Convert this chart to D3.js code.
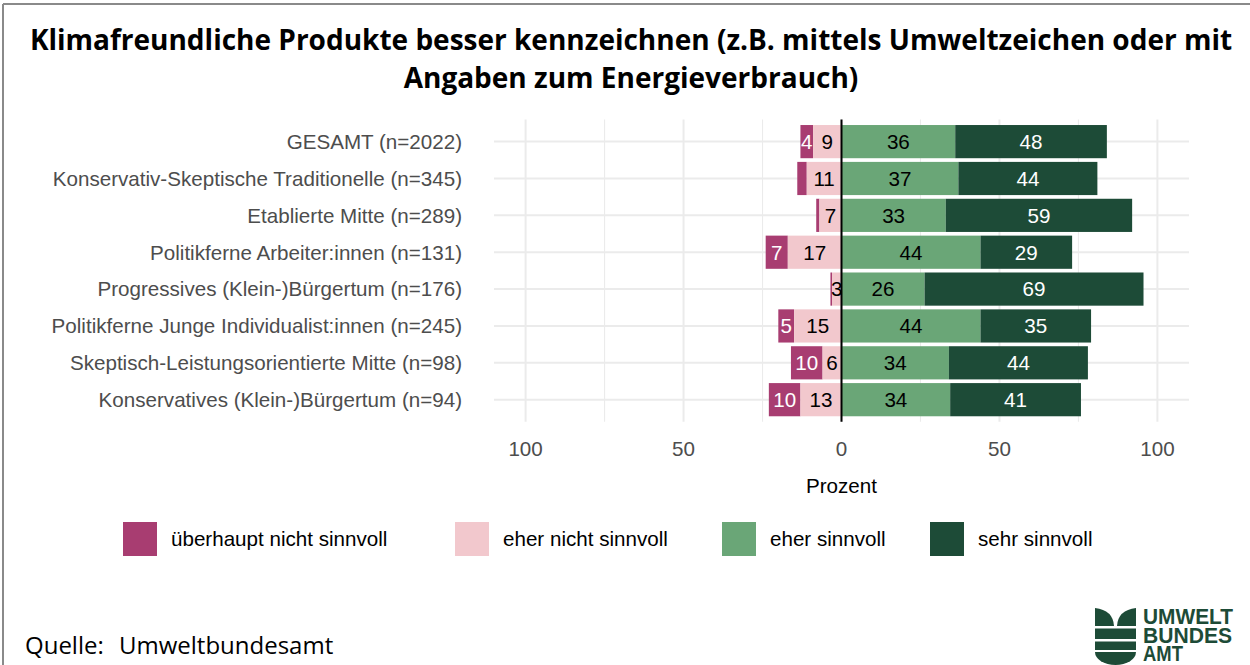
<!DOCTYPE html>
<html>
<head>
<meta charset="utf-8">
<script src="https://cdn.jsdelivr.net/npm/d3@7"></script>
<style>
  html, body { margin: 0; padding: 0; background: #fff; }
  svg { display: block; }
</style>
</head>
<body>
<svg id="chart" width="1250" height="665"></svg>
<script>
// ---- Data ----
const categories = [
  "GESAMT (n=2022)",
  "Konservativ-Skeptische Traditionelle (n=345)",
  "Etablierte Mitte (n=289)",
  "Politikferne Arbeiter:innen (n=131)",
  "Progressives (Klein-)Bürgertum (n=176)",
  "Politikferne Junge Individualist:innen (n=245)",
  "Skeptisch-Leistungsorientierte Mitte (n=98)",
  "Konservatives (Klein-)Bürgertum (n=94)"
];
const ueberhauptNicht = [4, 3, 1, 7, 0.5, 5, 10, 10];
const eherNicht       = [9, 11, 7, 17, 3, 15, 6, 13];
const eherSinnvoll    = [36, 37, 33, 44, 26.3, 44, 34, 34.4];
const sehrSinnvoll    = [48, 44, 59, 29, 69.3, 35, 44, 41.4];
const seriesNames = ["überhaupt nicht sinnvoll", "eher nicht sinnvoll", "eher sinnvoll", "sehr sinnvoll"];
const seriesColors = ["#A83D71", "#F2C8CD", "#6AA677", "#1D4B37"];
const labelColors = ["#ffffff", "#000000", "#000000", "#ffffff"];
const minLabelValue = [4, 3, 3, 3];
const majorTicks = [-100, -50, 0, 50, 100];
const minorTicks = [-75, -25, 25, 75];
const titleLines = [
  "Klimafreundliche Produkte besser kennzeichnen (z.B. mittels Umweltzeichen oder mit",
  "Angaben zum Energieverbrauch)"
];
const xAxisTitle = "Prozent";
const sourceLabel = "Quelle:";
const sourceName = "Umweltbundesamt";
const logoWords = ["UMWELT", "BUNDES", "AMT"];

// ---- Layout ----
const svg = d3.select("#chart");
const FONT = "'Liberation Sans', Arial, sans-serif";
const FS = 20.6;
const panel = { left: 494, right: 1189, top: 119.5, bottom: 421.8 };
const x = d3.scaleLinear().domain([-110, 110]).range([panel.left, panel.right]);
const y = d3.scaleBand().domain(categories).range([panel.top, panel.bottom])
  .paddingInner(0.1).paddingOuter(0.15);

// border (top and left visible)
svg.append("line").attr("x1", 3).attr("x2", 1250).attr("y1", 4).attr("y2", 4)
  .attr("stroke", "#8a8a8a").attr("stroke-width", 2);
svg.append("line").attr("x1", 3).attr("x2", 3).attr("y1", 4).attr("y2", 665)
  .attr("stroke", "#8a8a8a").attr("stroke-width", 2);

// title
svg.append("g").selectAll("text").data(titleLines).join("text")
  .attr("x", 631).attr("y", (d, i) => 50 + i * 38)
  .attr("text-anchor", "middle")
  .attr("font-family", "'Open Sans', sans-serif")
  .attr("font-weight", 700).attr("font-size", 28).attr("fill", "#000")
  .text(d => d);

// grid
const grid = svg.append("g");
grid.selectAll("line.minor").data(minorTicks).join("line").attr("class", "minor")
  .attr("x1", d => x(d)).attr("x2", d => x(d))
  .attr("y1", panel.top).attr("y2", panel.bottom)
  .attr("stroke", "#EBEBEB").attr("stroke-width", 1.1);
grid.selectAll("line.major").data(majorTicks).join("line").attr("class", "major")
  .attr("x1", d => x(d)).attr("x2", d => x(d))
  .attr("y1", panel.top).attr("y2", panel.bottom)
  .attr("stroke", "#EBEBEB").attr("stroke-width", 2);
grid.selectAll("line.h").data(categories).join("line").attr("class", "h")
  .attr("x1", panel.left).attr("x2", panel.right)
  .attr("y1", d => y(d) + y.bandwidth() / 2).attr("y2", d => y(d) + y.bandwidth() / 2)
  .attr("stroke", "#EBEBEB").attr("stroke-width", 2);

// stacked segments
const segs = [];
categories.forEach((c, i) => {
  const v = [ueberhauptNicht[i], eherNicht[i], eherSinnvoll[i], sehrSinnvoll[i]];
  segs.push({ c, s: 0, v: v[0], x0: -(v[0] + v[1]), x1: -v[1] });
  segs.push({ c, s: 1, v: v[1], x0: -v[1], x1: 0 });
  segs.push({ c, s: 2, v: v[2], x0: 0, x1: v[2] });
  segs.push({ c, s: 3, v: v[3], x0: v[2], x1: v[2] + v[3] });
});
svg.append("g").selectAll("rect").data(segs).join("rect")
  .attr("x", d => x(d.x0)).attr("width", d => x(d.x1) - x(d.x0))
  .attr("y", d => y(d.c)).attr("height", y.bandwidth())
  .attr("fill", d => seriesColors[d.s]);

// zero line
svg.append("line").attr("x1", x(0)).attr("x2", x(0))
  .attr("y1", panel.top).attr("y2", panel.bottom)
  .attr("stroke", "#000").attr("stroke-width", 2);

// bar labels
svg.append("g").selectAll("text").data(segs.filter(d => d.v >= minLabelValue[d.s])).join("text")
  .attr("x", d => x((d.x0 + d.x1) / 2))
  .attr("y", d => y(d.c) + y.bandwidth() / 2)
  .attr("dy", "0.36em")
  .attr("text-anchor", "middle")
  .attr("font-family", FONT)
  .attr("font-size", FS)
  .attr("fill", d => labelColors[d.s])
  .text(d => d3.format("d")(Math.round(d.v)));

// y axis labels
svg.append("g").selectAll("text").data(categories).join("text")
  .attr("x", 462).attr("y", d => y(d) + y.bandwidth() / 2).attr("dy", "0.36em")
  .attr("text-anchor", "end")
  .attr("font-family", FONT)
  .attr("font-size", FS).attr("fill", "#4D4D4D")
  .text(d => d);

// x axis labels
svg.append("g").selectAll("text").data(majorTicks).join("text")
  .attr("x", d => x(d)).attr("y", 456)
  .attr("text-anchor", "middle")
  .attr("font-family", FONT)
  .attr("font-size", FS).attr("fill", "#4D4D4D")
  .text(d => Math.abs(d));
svg.append("text").attr("x", x(0)).attr("y", 493).attr("text-anchor", "middle")
  .attr("font-family", FONT)
  .attr("font-size", FS).attr("fill", "#000").text(xAxisTitle);

// legend
const legendX = [123, 455, 722, 930];
const lg = svg.append("g").selectAll("g").data(seriesNames).join("g")
  .attr("transform", (d, i) => `translate(${legendX[i]},522)`);
lg.append("rect").attr("width", 34).attr("height", 34)
  .attr("fill", (d, i) => seriesColors[i]);
lg.append("text").attr("x", 48).attr("y", 17).attr("dy", "0.36em")
  .attr("font-family", FONT)
  .attr("font-size", FS).attr("fill", "#000").text(d => d);

// source
svg.append("text").attr("x", 25).attr("y", 654)
  .attr("font-family", "'Open Sans', sans-serif").attr("font-size", 24)
  .attr("fill", "#000").text(sourceLabel);
svg.append("text").attr("x", 119).attr("y", 654)
  .attr("font-family", "'Open Sans', sans-serif").attr("font-size", 24)
  .attr("fill", "#000").text(sourceName);

// logo
const logo = svg.append("g").attr("fill", "#1D4B37");
logo.append("path").attr("d", "M1095,608 Q1113,610 1114,626 L1095,626 Z");
logo.append("path").attr("d", "M1136,608 Q1118,610 1117,626 L1136,626 Z");
logo.append("rect").attr("x", 1095).attr("y", 628.5).attr("width", 41).attr("height", 10.5);
logo.append("rect").attr("x", 1095).attr("y", 641.5).attr("width", 41).attr("height", 8.5);
logo.append("path").attr("d", "M1095,652 H1136 A20.5,13 0 0 1 1095,652 Z");
const logoWidths = [90, 89, 40];
const logoText = logo.append("text")
  .attr("font-family", FONT)
  .attr("font-weight", 700).attr("font-size", 21.5);
logoText.selectAll("tspan").data(logoWords).join("tspan")
  .attr("x", 1143).attr("y", (d, i) => 624 + i * 18.5)
  .attr("textLength", (d, i) => logoWidths[i]).attr("lengthAdjust", "spacingAndGlyphs")
  .text(d => d);
</script>
</body>
</html>
